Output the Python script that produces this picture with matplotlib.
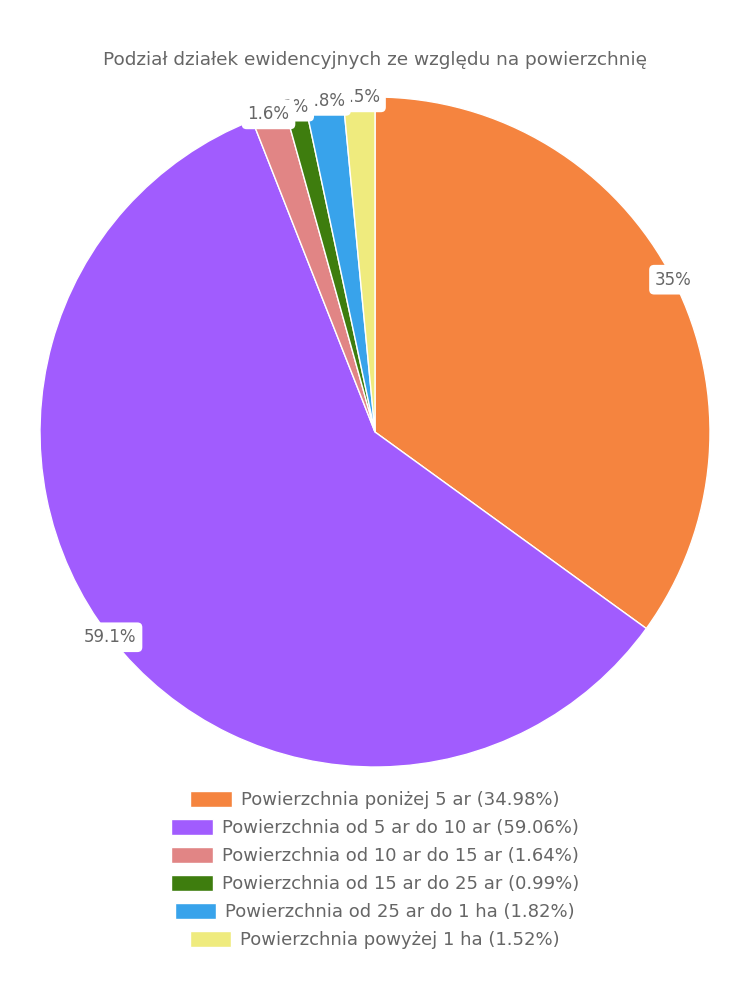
import matplotlib.pyplot as plt
from matplotlib.patches import Patch
import numpy as np

plt.rcParams['font.family'] = ['DejaVu Sans']

categories = ["Powierzchnia poniżej 5 ar", "Powierzchnia od 5 ar do 10 ar",
              "Powierzchnia od 10 ar do 15 ar", "Powierzchnia od 15 ar do 25 ar",
              "Powierzchnia od 25 ar do 1 ha", "Powierzchnia powyżej 1 ha"]
values = [34.98, 59.06, 1.64, 0.99, 1.82, 1.52]
colors = ["#f5843f", "#a15cfe", "#e18585", "#3e7d0e", "#38a3eb", "#efeb7e"]
title = "Podział działek ewidencyjnych ze względu na powierzchnię"
grey = "#666666"


def fmt(v):
    s = f"{v:.1f}".rstrip("0").rstrip(".")
    return s + "%"


fig = plt.figure(figsize=(7.5, 10), dpi=100)
fig.text(0.5, 0.94, title, ha="center", va="center", fontsize=13.3, color=grey)

ax = fig.add_axes([40 / 750, 233 / 1000, 670 / 750, 670 / 1000])
ax.pie(values, colors=colors, startangle=90, counterclock=False,
       wedgeprops=dict(edgecolor="white", linewidth=1), radius=1)
ax.set_xlim(-1, 1)
ax.set_ylim(-1, 1)
ax.set_aspect("equal")
ax.axis("off")

# value labels at the rim, later slices drawn first
total = sum(values)
cum = np.cumsum([0] + values[:-1])
for i in reversed(range(len(values))):
    mid = (cum[i] + values[i] / 2) / total * 2 * np.pi
    x, y = np.sin(mid), np.cos(mid)
    ax.text(x, y, fmt(values[i]), ha="center", va="center", fontsize=12, color=grey,
            zorder=10 + (len(values) - i),
            bbox=dict(boxstyle="round,pad=0.35,rounding_size=0.3", fc="white", ec="none"))

# legend: one centred row per entry
for i, (cat, v, c) in enumerate(zip(categories, values, colors)):
    h = Patch(facecolor=c, edgecolor="white", linewidth=1)
    leg = fig.legend([h], [f"{cat} ({v:.2f}%)"], loc="center",
                     bbox_to_anchor=(0.5, 1 - (800 + 28 * i) / 1000),
                     frameon=False, fontsize=13, handlelength=2.3, handleheight=1.0,
                     handletextpad=0.5, borderpad=0, borderaxespad=0)
    for t in leg.get_texts():
        t.set_color(grey)

fig.savefig("out.png", dpi=100)
